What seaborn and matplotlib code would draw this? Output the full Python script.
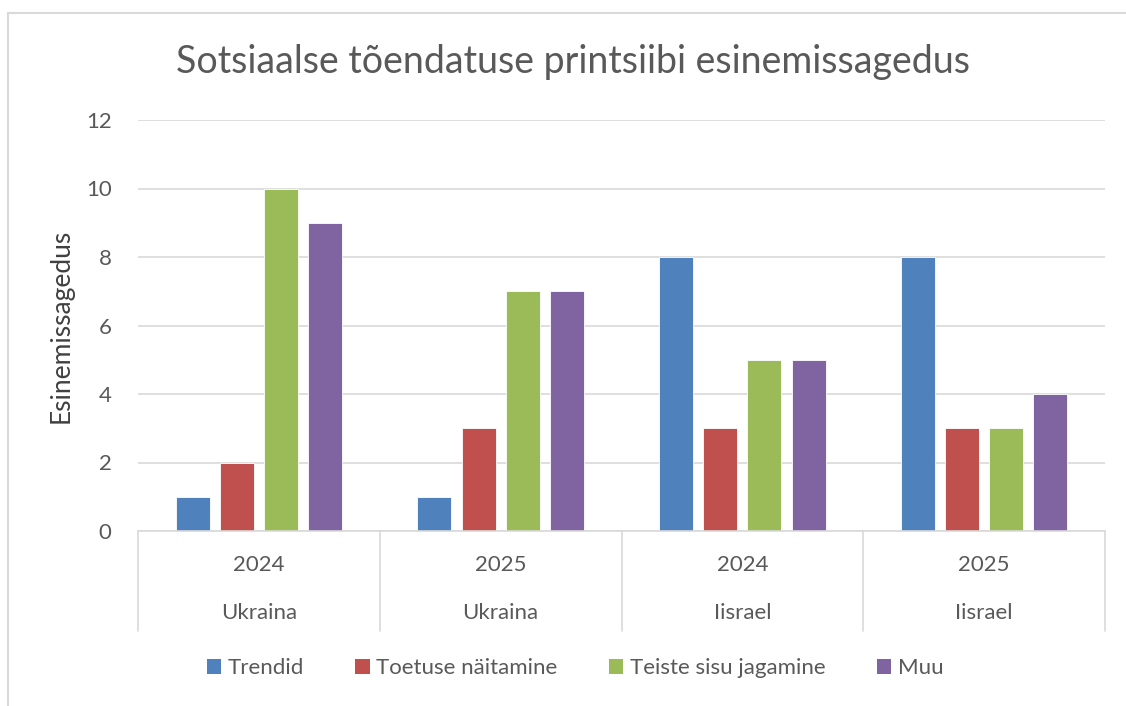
import matplotlib
matplotlib.use("Agg")
import matplotlib.pyplot as plt
from matplotlib.lines import Line2D
from matplotlib.patches import Patch
import seaborn as sns
import pandas as pd

# andmed
countries = ["Ukraina", "Ukraina", "Iisrael", "Iisrael"]
years = ["2024", "2025", "2024", "2025"]
series = ["Trendid", "Toetuse näitamine", "Teiste sisu jagamine", "Muu"]
trendid = [1, 1, 8, 8]
toetus = [2, 3, 3, 3]
teiste = [10, 7, 5, 3]
muu = [9, 7, 5, 4]
colors = ["#4F81BD", "#C0504D", "#9BBB59", "#8064A2"]

groups = [f"{c} {y}" for c, y in zip(countries, years)]
values = [trendid, toetus, teiste, muu]
rows = []
for s, vals in zip(series, values):
    for g, v in zip(groups, vals):
        rows.append({"grupp": g, "seeria": s, "väärtus": v})
df = pd.DataFrame(rows)

sns.set_theme(style="white")
plt.rcParams["font.family"] = ["Lato", "DejaVu Sans"]
txt = "#595959"
grid = "#D9D9D9"

fig = plt.figure(figsize=(11.26, 7.06), dpi=100)
ax = fig.add_axes([138 / 1126, 1 - 531 / 706, (1105 - 138) / 1126, (531 - 120) / 706])

sns.barplot(data=df, x="grupp", y="väärtus", hue="seeria", order=groups,
            hue_order=series, palette=colors, width=0.73, gap=0.23,
            saturation=1, edgecolor="white", linewidth=0.6, ax=ax, legend=False)

ax.set_ylim(0, 12)
ax.set_xlim(-0.5, len(groups) - 0.5)
ax.set_yticks(range(0, 13, 2))
ax.yaxis.grid(True, color=grid, linewidth=1.2)
ax.set_axisbelow(True)
for side in ["top", "right", "left"]:
    ax.spines[side].set_visible(False)
ax.spines["bottom"].set_color(grid)
ax.spines["bottom"].set_linewidth(1.2)
ax.tick_params(axis="both", length=0, labelsize=16, colors=txt)
ax.tick_params(axis="y", pad=19)
ax.set_xticks([])
ax.set_xlabel("")
ax.set_ylabel("Esinemissagedus", fontsize=19, color="#404040", labelpad=9)

# kahetasemeline kategooriatelg
trans = ax.get_xaxis_transform()
for i in range(len(groups) + 1):
    ax.add_line(Line2D([i - 0.5, i - 0.5], [0, -100 / 411], transform=trans,
                       color=grid, linewidth=1.2, clip_on=False))
for i, (c, y) in enumerate(zip(countries, years)):
    ax.text(i, -34 / 411, y, transform=trans, ha="center", va="center",
            fontsize=16, color=txt)
    ax.text(i, -82 / 411, c, transform=trans, ha="center", va="center",
            fontsize=16, color=txt)

fig.text(573 / 1126, 1 - 62 / 706, "Sotsiaalse tõendatuse printsiibi esinemissagedus",
         ha="center", va="center", fontsize=27, color=txt)

handles = [Patch(facecolor=col, edgecolor="none") for col in colors]
leg = fig.legend(handles, series, loc="center", bbox_to_anchor=(575 / 1126, 1 - 668 / 706),
                 ncol=4, frameon=False, fontsize=16, handlelength=0.65, handleheight=0.65,
                 handletextpad=0.3, columnspacing=2.3)
for t in leg.get_texts():
    t.set_color(txt)

# diagrammi raam
fig.add_artist(Line2D([8 / 1126, 1], [1 - 13 / 706, 1 - 13 / 706], color=grid, linewidth=1.5))
fig.add_artist(Line2D([8 / 1126, 8 / 1126], [0, 1 - 13 / 706], color=grid, linewidth=1.5))

fig.savefig("out.png", dpi=100)
